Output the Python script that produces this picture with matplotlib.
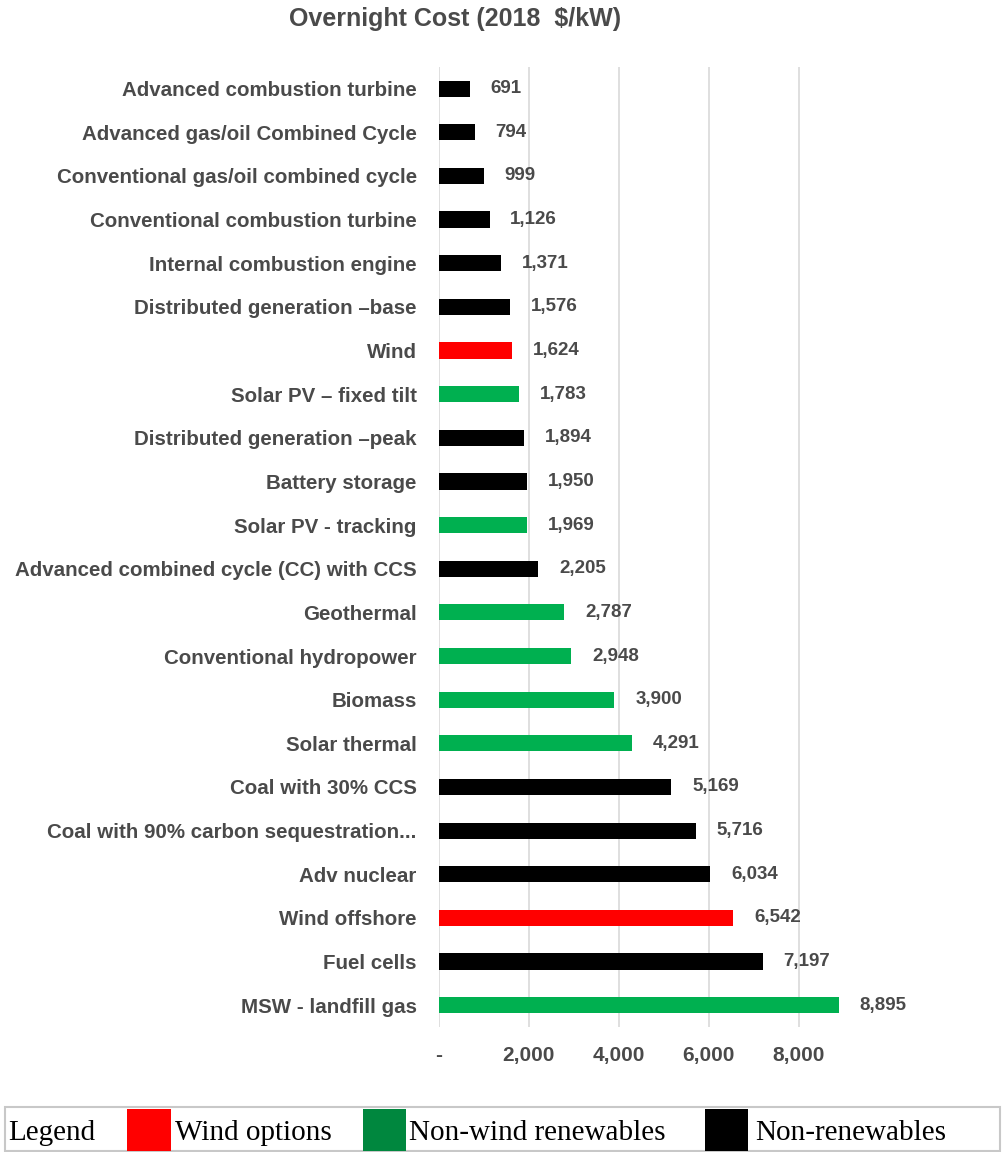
import matplotlib.pyplot as plt
from matplotlib.patches import Rectangle

# data, top to bottom as in the chart
techs = ["Advanced combustion turbine", "Advanced gas/oil Combined Cycle",
         "Conventional gas/oil combined cycle", "Conventional combustion turbine",
         "Internal combustion engine", "Distributed generation \u2013base", "Wind",
         "Solar PV \u2013 fixed tilt", "Distributed generation \u2013peak",
         "Battery storage", "Solar PV - tracking",
         "Advanced combined cycle (CC) with CCS", "Geothermal",
         "Conventional hydropower", "Biomass", "Solar thermal",
         "Coal with 30% CCS", "Coal with 90% carbon sequestration...",
         "Adv nuclear", "Wind offshore", "Fuel cells", "MSW - landfill gas"]
cost = [691, 794, 999, 1126, 1371, 1576, 1624, 1783, 1894, 1950, 1969,
        2205, 2787, 2948, 3900, 4291, 5169, 5716, 6034, 6542, 7197, 8895]
group = ["non", "non", "non", "non", "non", "non", "wind", "ren", "non", "non", "ren",
         "non", "ren", "ren", "ren", "ren", "non", "non", "non", "wind", "non", "ren"]

bar_col = {"wind": "#ff0000", "ren": "#00b050", "non": "#000000"}
txt = "#4a4a4a"
font = "Liberation Sans"

fig = plt.figure(figsize=(10.02, 11.52), dpi=100)
ax = fig.add_axes([0.438, 0.1085, 0.404, 0.8335])

y = list(range(len(techs)))[::-1]
ax.barh(y, cost, height=0.37, color=[bar_col[g] for g in group], zorder=3)
for yi, c in zip(y, cost):
    ax.annotate(f"{c:,}", (c, yi), xytext=(15, 0), textcoords="offset points",
                va="center", ha="left", fontsize=13.5, fontweight="bold",
                color=txt, family=font)

ax.set_xlim(0, 9000)
ax.set_ylim(-0.5, len(techs) - 0.5)
ax.set_yticks(y)
ax.set_yticklabels(techs, fontsize=14.8, fontweight="bold", color=txt, family=font)
ax.set_xticks([0, 2000, 4000, 6000, 8000])
ax.set_xticklabels(["-", "2,000", "4,000", "6,000", "8,000"], fontsize=15,
                   fontweight="bold", color=txt, family=font)
ax.tick_params(axis="y", length=0, pad=16)
ax.tick_params(axis="x", length=0, pad=14)
ax.grid(axis="x", color="#d9d9d9", lw=1.2, zorder=0)
for s in ax.spines.values():
    s.set_visible(False)

fig.text(455 / 1002, 1 - 19 / 1152, "Overnight Cost (2018  $/kW)", ha="center", va="center",
         fontsize=18, fontweight="bold", color=txt, family=font)

# legend strip at the bottom
W, H = 1002, 1152
def px(x0, y0, w, h):
    return (x0 / W, 1 - (y0 + h) / H), w / W, h / H

(lx, ly), lw, lh = px(5, 1107, 995, 44)
fig.patches.append(Rectangle((lx, ly), lw, lh, transform=fig.transFigure,
                             fill=False, ec="#c8c8c8", lw=1.5))
for x0, x1, c in [(127, 171, "#ff0000"), (363, 406, "#00873e"), (705, 748, "#000000")]:
    (sx, sy), sw, sh = px(x0, 1109, x1 - x0, 42)
    fig.patches.append(Rectangle((sx, sy), sw, sh, transform=fig.transFigure,
                                 color=c, lw=0))
for x0, t in [(8, "Legend"), (175, "Wind options"), (409, "Non-wind renewables"),
              (755, "Non-renewables")]:
    fig.text(x0 / W, 1 - 1133 / H, t, ha="left", va="center", fontsize=21,
             family="Liberation Serif", color="#000000")

fig.savefig("out.png", dpi=100)
